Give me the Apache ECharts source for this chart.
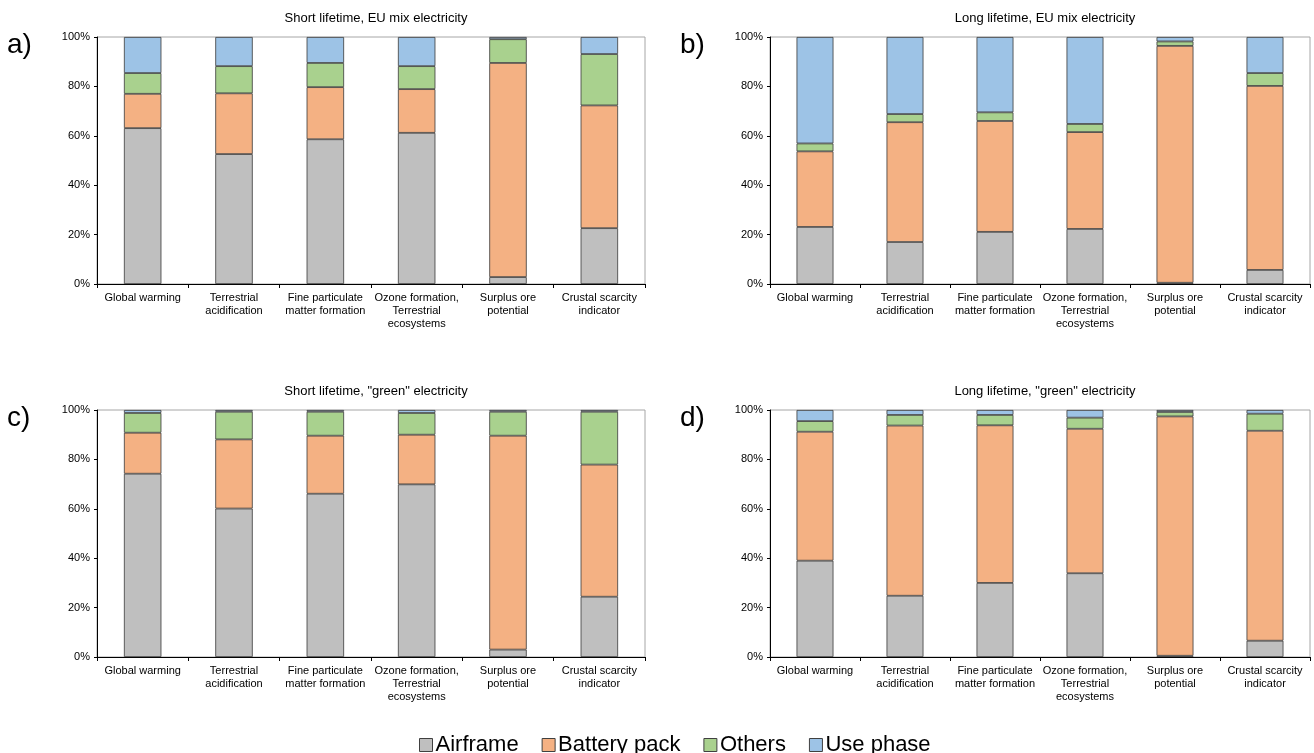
<!DOCTYPE html>
<html><head><meta charset="utf-8">
<script src="https://cdn.jsdelivr.net/npm/echarts@6/dist/echarts.min.js"></script>
<style>html,body{margin:0;padding:0;background:#fff}#c{width:1314px;height:753px}</style>
</head><body><div id="c"></div>
<script>
const categories = ['Global warming', 'Terrestrial\nacidification', 'Fine particulate\nmatter formation', 'Ozone formation,\nTerrestrial\necosystems', 'Surplus ore\npotential', 'Crustal scarcity\nindicator'];
const seriesNames = ['Airframe', 'Battery pack', 'Others', 'Use phase'];
const panelTitles = ['Short lifetime, EU mix electricity', 'Long lifetime, EU mix electricity', 'Short lifetime, "green" electricity', 'Long lifetime, "green" electricity'];
const panelLetters = ['a)', 'b)', 'c)', 'd)'];
const yTicks = [0, 20, 40, 60, 80, 100];

// segment shares (%) per panel
const airframeA = [63.1, 52.6, 58.6, 61.2, 2.8, 22.6];
const batteryA  = [13.9, 24.6, 21.1, 17.7, 86.7, 49.7];
const othersA   = [8.4, 11.0, 9.8, 9.3, 9.6, 20.8];
const useA      = [14.6, 11.8, 10.5, 11.8, 0.9, 6.9];

const airframeB = [23.1, 17.0, 21.1, 22.3, 0.5, 5.7];
const batteryB  = [30.6, 48.5, 44.9, 39.2, 95.9, 74.5];
const othersB   = [3.2, 3.3, 3.5, 3.3, 1.8, 5.2];
const useB      = [43.1, 31.2, 30.5, 35.2, 1.8, 14.6];

const airframeC = [74.2, 60.1, 66.1, 69.9, 3.0, 24.4];
const batteryC  = [16.6, 28.0, 23.5, 20.1, 86.6, 53.5];
const othersC   = [8.0, 11.2, 9.7, 8.8, 9.7, 21.4];
const useC      = [1.2, 0.7, 0.7, 1.2, 0.7, 0.7];

const airframeD = [39.0, 24.8, 30.0, 33.9, 0.5, 6.6];
const batteryD  = [52.2, 68.9, 63.8, 58.5, 96.9, 85.0];
const othersD   = [4.3, 4.3, 4.2, 4.5, 1.8, 6.9];
const useD      = [4.5, 2.0, 2.0, 3.1, 0.8, 1.5];

const panels = [
  [airframeA, batteryA, othersA, useA],
  [airframeB, batteryB, othersB, useB],
  [airframeC, batteryC, othersC, useC],
  [airframeD, batteryD, othersD, useD]
];
const colors = ['#BFBFBF', '#F4B183', '#A9D18E', '#9DC3E6'];

const grids = [
  {left: 97, top: 37, width: 548, height: 247},
  {left: 770, top: 37, width: 540, height: 247},
  {left: 97, top: 410, width: 548, height: 247},
  {left: 770, top: 410, width: 540, height: 247}
];
const FONT = 'Liberation Sans, Arial, sans-serif';

const option = {
  animation: false,
  color: colors,
  textStyle: {fontFamily: FONT},
  title: grids.map((g, i) => ({
    text: panelTitles[i], left: g.left + g.width / 2, top: g.top - 30, textAlign: 'center',
    textStyle: {fontSize: 13, fontWeight: 'normal', color: '#000', fontFamily: FONT}
  })),
  grid: grids.map(g => Object.assign({show: true, borderColor: '#A6A6A6', borderWidth: 1, backgroundColor: 'transparent'}, g)),
  xAxis: grids.map((g, i) => ({
    type: 'category', gridIndex: i, data: categories,
    axisLine: {lineStyle: {color: '#000', width: 1.2}},
    axisTick: {show: true, alignWithLabel: false, length: 4, lineStyle: {color: '#000'}},
    axisLabel: {interval: 0, color: '#000', fontSize: 11, lineHeight: 13, margin: 7, fontFamily: FONT}
  })),
  yAxis: grids.map((g, i) => ({
    type: 'value', gridIndex: i, min: 0, max: 100, interval: 20,
    splitLine: {show: false},
    axisLine: {show: true, lineStyle: {color: '#000', width: 1}},
    axisTick: {show: true, length: 3, lineStyle: {color: '#000'}},
    axisLabel: {formatter: '{value}%', color: '#000', fontSize: 11, margin: 7, fontFamily: FONT}
  })),
  legend: {
    data: seriesNames, left: 414, top: 729, icon: 'rect', itemWidth: 13, itemHeight: 13, itemGap: 23,
    textStyle: {fontSize: 22, color: '#000', fontFamily: FONT, padding: [0, 0, 0, -2]},
    itemStyle: {borderColor: '#404040', borderWidth: 1}
  },
  graphic: grids.map((g, i) => ({
    type: 'text', left: i % 2 === 0 ? 7 : 680, top: g.top - 6,
    style: {text: panelLetters[i], fontSize: 28, fill: '#000', fontFamily: FONT}
  })),
  series: []
};

panels.forEach((vals, p) => {
  seriesNames.forEach((name, s) => {
    option.series.push({
      name: name, type: 'bar', stack: 'p' + p, xAxisIndex: p, yAxisIndex: p,
      data: vals[s], barWidth: '41%',
      itemStyle: {color: colors[s], borderColor: '#3A3A3A', borderWidth: 0.8}
    });
  });
});

const chart = echarts.init(document.getElementById('c'), null, {renderer: 'canvas'});
chart.setOption(option);
</script></body></html>
